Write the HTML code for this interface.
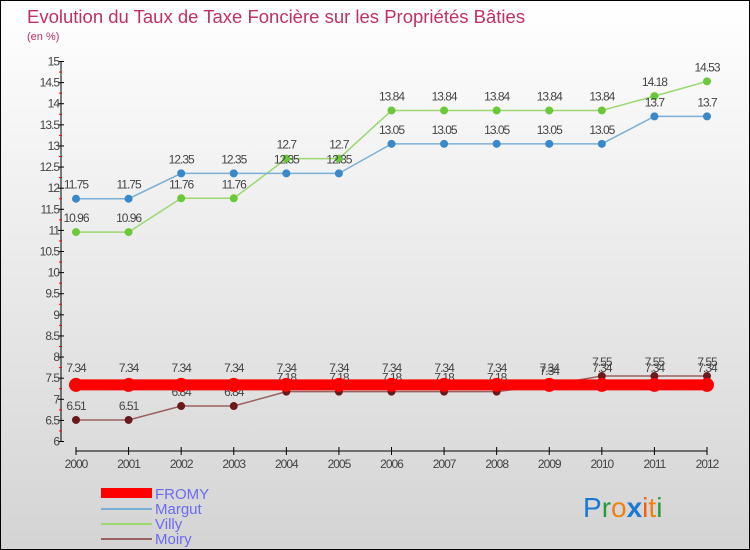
<!DOCTYPE html>
<html><head><meta charset="utf-8"><style>
body{margin:0}
#c{width:750px;height:550px;position:relative;box-sizing:border-box;border:1px solid #000;background:linear-gradient(#fff,#d4d4d4);font-family:"Liberation Sans",sans-serif;overflow:hidden}
</style></head><body>
<div id="c">
<svg id="s" width="748" height="548" style="position:absolute;left:0;top:0">
<text x="26" y="22" font-size="18.5" fill="#c0315f">Evolution du Taux de Taxe Foncière sur les Propriétés Bâties</text>
<text x="26" y="39" font-size="11" fill="#c0315f">(en %)</text>
<g id="axes"></g><g id="series"></g>
<g>
<rect x="100" y="487" width="51" height="10" fill="#f00"/>
<text x="154" y="498" font-size="15" fill="#6b6bf0">FROMY</text>
<rect x="100" y="507" width="51" height="2" fill="#7ab0d8"/>
<text x="154" y="513" font-size="15" fill="#6b6bf0">Margut</text>
<rect x="100" y="522" width="51" height="2" fill="#9ad870"/>
<text x="154" y="528" font-size="15" fill="#6b6bf0">Villy</text>
<rect x="100" y="537" width="51" height="2" fill="#9a6060"/>
<text x="154" y="543" font-size="15" fill="#6b6bf0">Moiry</text>
</g>
<g font-size="28" font-family="'Liberation Sans',sans-serif">
<text x="582" y="516"><tspan fill="#1a7ad0">P</tspan><tspan fill="#2a9a3a">r</tspan><tspan fill="#f08010">o</tspan><tspan fill="#1a7ad0" font-weight="bold">x</tspan><tspan fill="#f06010">i</tspan><tspan fill="#f08010">t</tspan><tspan fill="#2a9a3a">i</tspan></text>
</g>
</svg>
</div>
<script>
const years=[2000,2001,2002,2003,2004,2005,2006,2007,2008,2009,2010,2011,2012];
const fromy=[7.34,7.34,7.34,7.34,7.34,7.34,7.34,7.34,7.34,7.34,7.34,7.34,7.34];
const margut=[11.75,11.75,12.35,12.35,12.35,12.35,13.05,13.05,13.05,13.05,13.05,13.7,13.7];
const villy=[10.96,10.96,11.76,11.76,12.7,12.7,13.84,13.84,13.84,13.84,13.84,14.18,14.53];
const moiry=[6.51,6.51,6.84,6.84,7.18,7.18,7.18,7.18,7.18,7.34,7.55,7.55,7.55];
const yTicks=[6,6.5,7,7.5,8,8.5,9,9.5,10,10.5,11,11.5,12,12.5,13,13.5,14,14.5,15];
const NS="http://www.w3.org/2000/svg";
const X=i=>75+i*(631/12), Y=v=>440.5-(v-6)*(380/9);
function mk(t,a,p){const e=document.createElementNS(NS,t);for(const k in a)e.setAttribute(k,a[k]);p.appendChild(e);return e;}
const ax=document.getElementById('axes'),sg=document.getElementById('series');
let e=mk('line',{x1:60,y1:60,x2:60,y2:441,stroke:'#000'},ax);

e=mk('line',{x1:75,y1:450,x2:706,y2:450,stroke:'#000'},ax);

yTicks.forEach(v=>{const y=Y(v);
 mk('line',{x1:57,y1:y,x2:63,y2:y,stroke:'#000'},ax);
 if(v<15)mk('line',{x1:58,y1:Y(v+0.25),x2:61,y2:Y(v+0.25),stroke:'#f00'},ax);
 const t=mk('text',{x:58,y:y+4,'font-size':12,fill:'#444','text-anchor':'end','letter-spacing':'-1'},ax);t.textContent=v;
 });
years.forEach((yr,i)=>{const x=X(i);
 mk('line',{x1:x,y1:446,x2:x,y2:454,stroke:'#000'},ax);
 const t=mk('text',{x:x,y:467,'font-size':12,fill:'#444','text-anchor':'middle','letter-spacing':'-1'},ax);t.textContent=yr;
 });
function series(name,vals,col,dot,w,r){
 const g=mk('g',{},sg);
 mk('polyline',{points:vals.map((v,i)=>X(i)+','+Y(v)).join(' '),fill:'none',stroke:col,'stroke-width':w},g);
 vals.forEach((v,i)=>{const c=mk('circle',{cx:X(i),cy:Y(v),r:r,fill:dot},g);
  
  const t=mk('text',{x:X(i),y:Y(v)-(r+6),'font-size':12,fill:'#444','text-anchor':'middle','letter-spacing':'-1'},g);t.textContent=v;
  });
}
series('moiry',moiry,'#9a6060','#6a1a1a',1.5,4);
series('villy',villy,'#9ad870','#6ac83a',1.5,4);
series('margut',margut,'#7ab0d8','#3a88c8',1.5,4);
series('fromy',fromy,'#f00','#f00',11,7);
</script>
</body></html>
